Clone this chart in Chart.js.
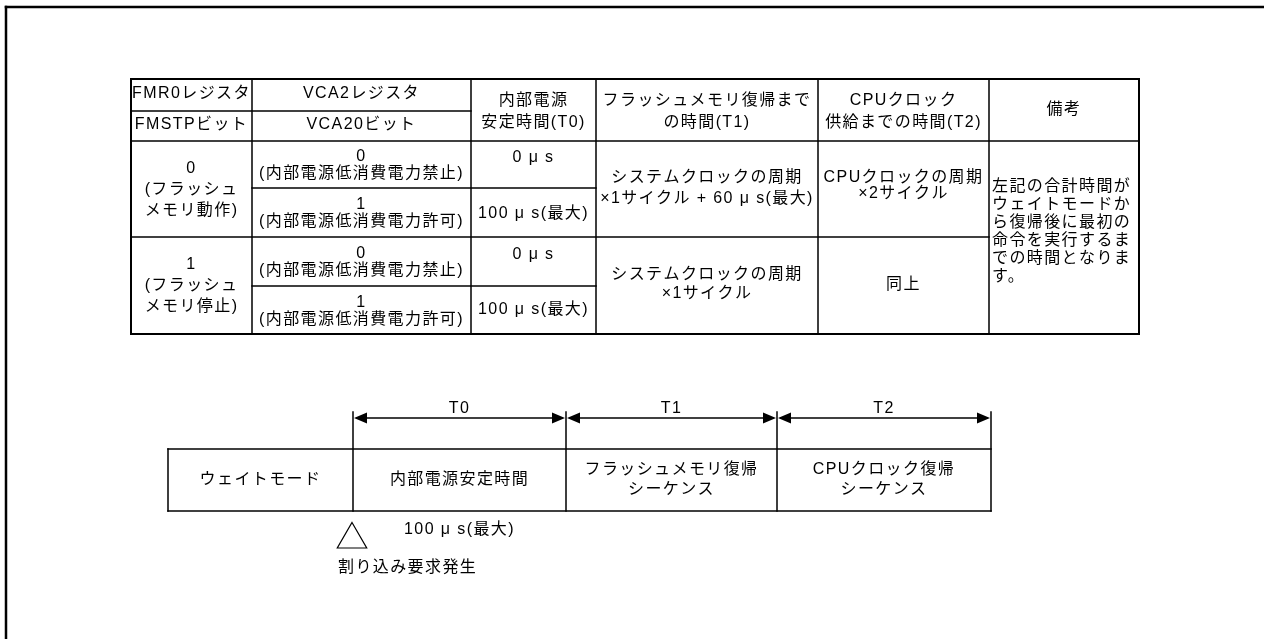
<!DOCTYPE html>
<html lang="ja">
<head>
<meta charset="utf-8">
<script src="https://cdn.jsdelivr.net/npm/chart.js@4.4.1/dist/chart.umd.min.js"></script>
<style>
 html, body { margin: 0; padding: 0; background: #fff; overflow: hidden; }
 canvas { display: block; }
</style>
</head>
<body>
<canvas id="chart" width="1264" height="639"></canvas>
<script>
// --- 表の内容 ---
const headRow1 = ['FMR0レジスタ', 'VCA2レジスタ'];
const headRow2 = ['FMSTPビット', 'VCA20ビット'];
const headTimes = ['内部電源\n安定時間(T0)', 'フラッシュメモリ復帰まで\nの時間(T1)', 'CPUクロック\n供給までの時間(T2)', '備考'];
const fmstpValues = ['0\n(フラッシュ\nメモリ動作)', '1\n(フラッシュ\nメモリ停止)'];
const vca20Values = ['0\n(内部電源低消費電力禁止)', '1\n(内部電源低消費電力許可)', '0\n(内部電源低消費電力禁止)', '1\n(内部電源低消費電力許可)'];
const t0Values = ['0 μ s', '100 μ s(最大)', '0 μ s', '100 μ s(最大)'];
const t1Values = ['システムクロックの周期\n×1サイクル + 60 μ s(最大)', 'システムクロックの周期\n×1サイクル'];
const t2Values = ['CPUクロックの周期\n×2サイクル', '同上'];
const remarks = ['左記の合計時間が', 'ウェイトモードか', 'ら復帰後に最初の', '命令を実行するま', 'での時間となりま', 'す。'];

// --- タイミング図の内容 ---
const phases = ['ウェイトモード', '内部電源安定時間', 'フラッシュメモリ復帰\nシーケンス', 'CPUクロック復帰\nシーケンス'];
const spanLabels = ['T0', 'T1', 'T2'];
const wakeNote = '100 μ s(最大)';
const irqLabel = '割り込み要求発生';

// --- レイアウト ---
const W = 1264, H = 639;
const colX = [131, 252, 471, 596, 818, 989, 1139];
const rowY = [79, 111, 141, 188, 237, 286, 334];
const boxX = [168, 353, 566, 777, 991];
const boxTop = 449, boxBottom = 511, tickTop = 412, arrowY = 418;
const FONT = '16px "Liberation Sans", "Noto Sans CJK JP", sans-serif';

// 罫線: [行, 開始列, 終了列] / [列, 開始行, 終了行]
const hRules = [[0, 0, 6], [1, 0, 2], [2, 0, 6], [3, 1, 3], [4, 0, 5], [5, 1, 3], [6, 0, 6]];
const vRules = [[0, 0, 6], [1, 0, 6], [2, 0, 6], [3, 0, 6], [4, 0, 6], [5, 0, 6], [6, 0, 6]];

function seg(x1, y1, x2, y2, w) {
 return {
  data: [{ x: x1, y: y1 }, { x: x2, y: y2 }],
  showLine: true, borderColor: '#000', borderWidth: w,
  borderCapStyle: 'square', pointRadius: 0, fill: false
 };
}

const datasets = [];
// 外枠
datasets.push(seg(6, 7, W + 5, 7, 2.5));
datasets.push(seg(6, 7, 6, H + 5, 2.5));

hRules.forEach(([r, c0, c1]) => {
 const outer = (r === 0 || r === rowY.length - 1);
 datasets.push(seg(colX[c0], rowY[r], colX[c1], rowY[r], outer ? 2 : 1.5));
});
vRules.forEach(([c, r0, r1]) => {
 const outer = (c === 0 || c === colX.length - 1);
 datasets.push(seg(colX[c], rowY[r0], colX[c], rowY[r1], outer ? 2 : 1.5));
});

// タイミング図の箱
datasets.push(seg(boxX[0], boxTop, boxX[4], boxTop, 1.5));
datasets.push(seg(boxX[0], boxBottom, boxX[4], boxBottom, 1.5));
datasets.push(seg(boxX[0], boxTop, boxX[0], boxBottom, 1.5));
for (let i = 1; i < boxX.length; i++) {
 datasets.push(seg(boxX[i], tickTop, boxX[i], boxBottom, 1.5));
}
// 矢印の軸
for (let i = 1; i < boxX.length - 1; i++) {
 datasets.push(seg(boxX[i] + 4, arrowY, boxX[i + 1] - 4, arrowY, 1.5));
}
// 割り込み発生マーク（白抜き三角）
datasets.push({
 data: [{ x: boxX[1] - 1, y: 539.5 }],
 pointStyle: 'triangle', pointRadius: 17, pointBackgroundColor: '#fff',
 pointBorderColor: '#000', pointBorderWidth: 1.2, showLine: false
});

// セル配置: [列0, 列1, 行0, 行1, テキスト, 行間, dy]
const cells = [
 [0, 1, 0, 1, headRow1[0], 0, -1],
 [1, 2, 0, 1, headRow1[1], 0, -1],
 [0, 1, 1, 2, headRow2[0], 0, -1],
 [1, 2, 1, 2, headRow2[1], 0, -1],
 [2, 3, 0, 2, headTimes[0], 22, 2],
 [3, 4, 0, 2, headTimes[1], 22, 2],
 [4, 5, 0, 2, headTimes[2], 22, 2],
 [5, 6, 0, 2, headTimes[3], 0, 0],
 [0, 1, 2, 4, fmstpValues[0], 21, 1],
 [0, 1, 4, 6, fmstpValues[1], 21, 0],
 [1, 2, 2, 3, vca20Values[0], 17, 1],
 [1, 2, 3, 4, vca20Values[1], 17, 1],
 [1, 2, 4, 5, vca20Values[2], 17, 1],
 [1, 2, 5, 6, vca20Values[3], 17, 1],
 [2, 3, 2, 3, t0Values[0], 0, -7],
 [2, 3, 3, 4, t0Values[1], 0, 1],
 [2, 3, 4, 5, t0Values[2], 0, -7],
 [2, 3, 5, 6, t0Values[3], 0, 0],
 [3, 4, 2, 4, t1Values[0], 21, -1],
 [3, 4, 4, 6, t1Values[1], 19, -1],
 [4, 5, 2, 4, t2Values[0], 16, -3],
 [4, 5, 4, 6, t2Values[1], 0, -1]
];

function drawLines(ctx, lines, cx, cy, lh, align) {
 ctx.textAlign = align;
 const top = cy - (lines.length - 1) * lh / 2;
 lines.forEach((s, i) => ctx.fillText(s, cx, top + i * lh));
}

const textPlugin = {
 id: 'tableText',
 afterDatasetsDraw(chart) {
  const { ctx, scales: { x, y } } = chart;
  ctx.save();
  ctx.font = FONT;
  ctx.fillStyle = '#000';
  ctx.textBaseline = 'middle';
  ctx.letterSpacing = '1.4px';

  cells.forEach(([c0, c1, r0, r1, text, lh, dy]) => {
   const cx = (x.getPixelForValue(colX[c0]) + x.getPixelForValue(colX[c1])) / 2;
   const cy = (y.getPixelForValue(rowY[r0]) + y.getPixelForValue(rowY[r1])) / 2 + dy;
   drawLines(ctx, text.split('\n'), cx, cy, lh, 'center');
  });

  // 備考（左揃え）
  const rx = x.getPixelForValue(colX[5]) + 3;
  const ry = (y.getPixelForValue(rowY[2]) + y.getPixelForValue(rowY[6])) / 2 - 6;
  drawLines(ctx, remarks, rx, ry, 18, 'left');

  // タイミング図の文字
  const by = (y.getPixelForValue(boxTop) + y.getPixelForValue(boxBottom)) / 2;
  phases.forEach((p, i) => {
   const cx = (x.getPixelForValue(boxX[i]) + x.getPixelForValue(boxX[i + 1])) / 2;
   drawLines(ctx, p.split('\n'), cx, by, 20, 'center');
  });
  spanLabels.forEach((t, i) => {
   const cx = (x.getPixelForValue(boxX[i + 1]) + x.getPixelForValue(boxX[i + 2])) / 2;
   drawLines(ctx, [t], cx, y.getPixelForValue(arrowY) - 9, 0, 'center');
  });
  const c1 = (x.getPixelForValue(boxX[1]) + x.getPixelForValue(boxX[2])) / 2;
  drawLines(ctx, [wakeNote], c1, y.getPixelForValue(530), 0, 'center');
  drawLines(ctx, [irqLabel], x.getPixelForValue(boxX[1]) - 15, y.getPixelForValue(568), 0, 'left');

  // 矢印の先
  const ay = y.getPixelForValue(arrowY);
  for (let i = 1; i < boxX.length - 1; i++) {
   const xa = x.getPixelForValue(boxX[i]);
   const xb = x.getPixelForValue(boxX[i + 1]);
   ctx.beginPath();
   ctx.moveTo(xa + 1, ay); ctx.lineTo(xa + 14, ay - 5.5); ctx.lineTo(xa + 14, ay + 5.5);
   ctx.closePath();
   ctx.moveTo(xb - 1, ay); ctx.lineTo(xb - 14, ay - 5.5); ctx.lineTo(xb - 14, ay + 5.5);
   ctx.closePath();
   ctx.fill();
  }
  ctx.restore();
 }
};

const chart = new Chart(document.getElementById('chart').getContext('2d'), {
 type: 'scatter',
 data: { datasets: datasets },
 options: {
  responsive: false,
  animation: false,
  events: [],
  layout: { padding: 0, autoPadding: false },
  scales: {
   x: { type: 'linear', min: 0, max: W, display: false },
   y: { type: 'linear', min: 0, max: H, reverse: true, display: false }
  },
  plugins: { legend: { display: false }, tooltip: { enabled: false } }
 },
 plugins: [textPlugin]
});
</script>
</body>
</html>
